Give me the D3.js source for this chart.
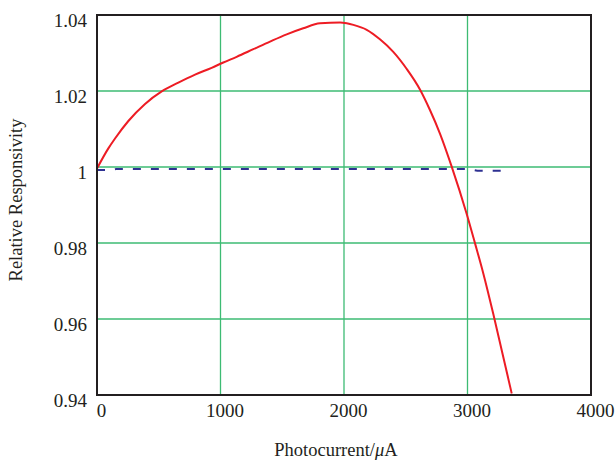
<!DOCTYPE html>
<html>
<head>
<meta charset="utf-8">
<script src="https://cdn.jsdelivr.net/npm/d3@7"></script>
<style>
  body { margin: 0; background: #fff; }
  text { font-family: "Liberation Serif", "Times New Roman", serif; fill: #231f20; }
</style>
</head>
<body>
<div id="chart"></div>
<script>
// photocurrent (uA) and relative responsivity
var redX = [0, 92, 146, 254, 389, 524, 659, 794, 928, 1023, 1131, 1266, 1401, 1536, 1670,
  1806, 1968, 2022, 2076, 2184, 2291, 2399, 2508, 2615, 2696, 2777, 2872, 2993,
  3061, 3128, 3209, 3277, 3358]
var redY = [0.9996, 1.0049, 1.0075, 1.0121, 1.0166, 1.0199, 1.0222, 1.0243, 1.0261, 1.0275,
  1.0290, 1.0310, 1.0330, 1.0349, 1.0365, 1.0378, 1.0380, 1.0378, 1.0374, 1.0361, 1.0336,
  1.0303, 1.0258, 1.0204, 1.0150, 1.0088, 1.0001, 0.9877, 0.9799, 0.9720, 0.9613,
  0.9518, 0.9404]

var blueX = [0, 120, 160, 500, 1000, 1500, 2000, 2500, 3000, 3080, 3340]
var blueY = [0.9992, 0.9992, 0.9995, 0.9995, 0.9995, 0.9995, 0.9995, 0.9995, 0.9995, 0.9990, 0.9990]

var xTicks = [0, 1000, 2000, 3000, 4000]
var yTicks = [0.94, 0.96, 0.98, 1, 1.02, 1.04]
var yTickLabels = ["0.94", "0.96", "0.98", "1", "1.02", "1.04"]

var chartWidth = 615
var chartHeight = 460
var margin = {top: 15, right: 24, bottom: 65, left: 97}
var width = chartWidth - margin.left - margin.right
var height = chartHeight - margin.top - margin.bottom

var x = d3.scaleLinear().domain([0, 4000]).range([0, width])
var y = d3.scaleLinear().domain([0.94, 1.04]).range([height, 0])

var svg = d3.select("#chart").append("svg")
  .attr("width", chartWidth)
  .attr("height", chartHeight)

var main = svg.append("g")
  .attr("transform", "translate(" + margin.left + "," + margin.top + ")")

// grid lines
var gridColor = "#3dbb73"
main.selectAll(".gx")
  .data(xTicks.slice(1, -1))
  .enter().append("line")
  .attr("x1", function (d) { return x(d) })
  .attr("x2", function (d) { return x(d) })
  .attr("y1", 0).attr("y2", height)
  .attr("stroke", gridColor).attr("stroke-width", 1.3)

main.selectAll(".gy")
  .data(yTicks.slice(1, -1))
  .enter().append("line")
  .attr("y1", function (d) { return y(d) })
  .attr("y2", function (d) { return y(d) })
  .attr("x1", 0).attr("x2", width)
  .attr("stroke", gridColor).attr("stroke-width", 1.3)

// axes (labels only, frame drawn separately)
var xAxis = d3.axisBottom(x).tickValues(xTicks).tickSize(0).tickFormat(d3.format("d"))
var gx = main.append("g")
  .attr("transform", "translate(0," + height + ")")
  .call(xAxis)
gx.select(".domain").remove()
gx.selectAll("text")
  .attr("dx", 4).attr("dy", 19)
  .style("font-size", "19px")

var yAxis = d3.axisLeft(y).tickValues(yTicks).tickSize(0)
  .tickFormat(function (d, i) { return yTickLabels[i] })
var gy = main.append("g").call(yAxis)
gy.select(".domain").remove()
gy.selectAll("text")
  .attr("x", -10).attr("dy", "0.58em")
  .style("font-size", "19px")

svg.selectAll(".tick text")
  .style("font-family", "'Liberation Serif', 'Times New Roman', serif")
  .attr("fill", "#231f20")

var line = d3.line()
  .x(function (d) { return x(d[0]) })
  .y(function (d) { return y(d[1]) })

var blueData = blueX.map(function (v, i) { return [v, blueY[i]] })
main.append("path")
  .datum(blueData)
  .attr("d", line)
  .attr("fill", "none")
  .attr("stroke", "#2e3192")
  .attr("stroke-width", 2)
  .attr("stroke-dasharray", "8,10")

var redData = redX.map(function (v, i) { return [v, redY[i]] })
main.append("path")
  .datum(redData)
  .attr("d", line.curve(d3.curveMonotoneX))
  .attr("fill", "none")
  .attr("stroke", "#ed1c24")
  .attr("stroke-width", 2)

// frame
main.append("rect")
  .attr("width", width).attr("height", height)
  .attr("fill", "none")
  .attr("stroke", "#231f20")
  .attr("stroke-width", 2)

// axis titles
svg.append("text")
  .attr("x", margin.left + width / 2 - 8)
  .attr("y", 456)
  .attr("text-anchor", "middle")
  .style("font-size", "18.5px")
  .text("Photocurrent/")
  .append("tspan").style("font-style", "italic").text("\u03bc")
  .select(function () { return this.parentNode })
  .append("tspan").text("A")

svg.append("text")
  .attr("transform", "translate(22,200) rotate(-90)")
  .attr("text-anchor", "middle")
  .style("font-size", "18.5px")
  .text("Relative Responsivity")
</script>
</body>
</html>
